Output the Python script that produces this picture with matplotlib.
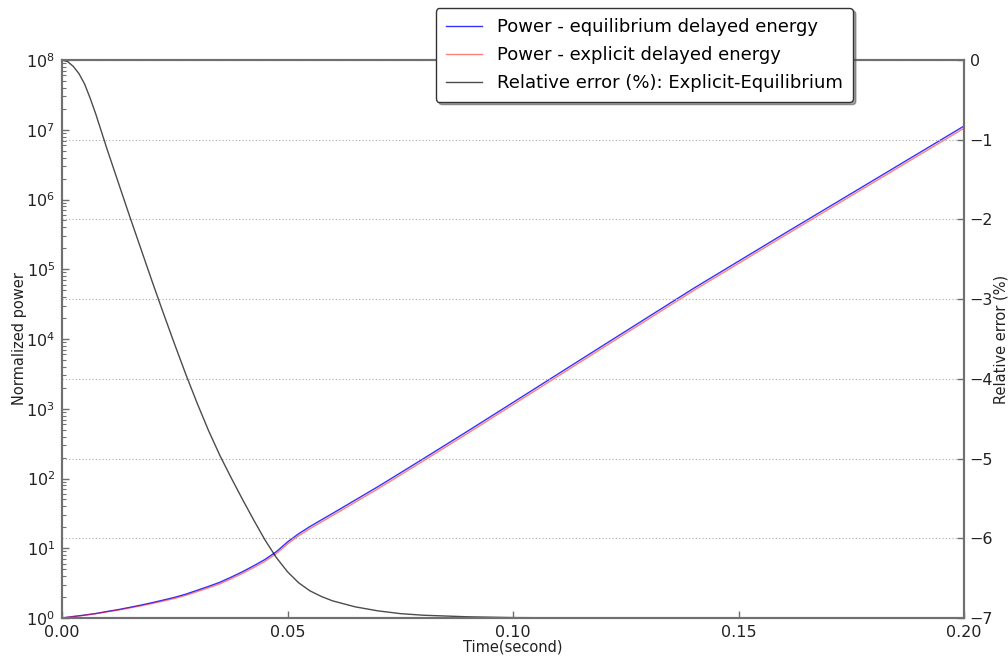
import matplotlib
matplotlib.use("Agg")
import matplotlib.pyplot as plt
from matplotlib.ticker import LogLocator, FixedLocator, NullFormatter

# Time grid (s) for the power curves
time_s = [0.0, 0.0025, 0.005, 0.0075, 0.01, 0.0125, 0.015, 0.0175, 0.02, 0.0225,
          0.025, 0.0275, 0.03, 0.0325, 0.035, 0.0375, 0.04, 0.0425, 0.045, 0.0475,
          0.05, 0.0525, 0.055, 0.0575, 0.06, 0.065, 0.07, 0.075, 0.08, 0.09,
          0.10, 0.12, 0.14, 0.16, 0.18, 0.20]

# Normalized power, equilibrium delayed energy
power_equilibrium = [1.00, 1.05, 1.10, 1.16, 1.24, 1.32, 1.42, 1.53, 1.66, 1.81,
                     1.98, 2.20, 2.50, 2.84, 3.25, 3.85, 4.60, 5.60, 6.90, 8.90,
                     12.3, 16.2, 20.5, 25.5, 31.6, 49.0, 76.0, 120.0, 190.0, 480.0,
                     1230.0, 8100.0, 5.3e4, 3.2e5, 1.9e6, 1.13e7]

# Normalized power, explicit delayed energy
power_explicit = [1.00, 1.049, 1.097, 1.152, 1.226, 1.300, 1.392, 1.494, 1.614, 1.752,
                  1.909, 2.113, 2.392, 2.708, 3.088, 3.647, 4.347, 5.277, 6.483, 8.344,
                  11.51, 15.14, 19.14, 23.78, 29.45, 45.64, 70.74, 111.7, 176.8, 446.4,
                  1144.0, 7533.0, 4.929e4, 2.976e5, 1.767e6, 1.051e7]

# Time grid (s) for the relative error curve
error_time_s = [0.0, 0.00125, 0.0025, 0.00375, 0.005, 0.00625, 0.0075, 0.00875, 0.01,
                0.0125, 0.015, 0.0175, 0.02, 0.0225, 0.025, 0.0275, 0.03, 0.0325,
                0.035, 0.0375, 0.04, 0.0425, 0.045, 0.0475, 0.05, 0.0525, 0.055,
                0.0575, 0.06, 0.065, 0.07, 0.075, 0.08, 0.09, 0.10, 0.12, 0.14,
                0.16, 0.18, 0.20]

# Relative error (%) explicit vs equilibrium
relative_error = [0.0, -0.02, -0.08, -0.17, -0.30, -0.48, -0.68, -0.90, -1.12,
                  -1.54, -1.96, -2.37, -2.78, -3.18, -3.57, -3.95, -4.31, -4.65,
                  -4.96, -5.24, -5.51, -5.77, -6.02, -6.24, -6.42, -6.56, -6.66,
                  -6.73, -6.785, -6.86, -6.91, -6.945, -6.965, -6.985, -6.995, -7.0,
                  -7.0, -7.0, -7.0, -7.0]

x_ticks = [0.00, 0.05, 0.10, 0.15, 0.20]
x_tick_labels = ["0.00", "0.05", "0.10", "0.15", "0.20"]
err_ticks = [0, -1, -2, -3, -4, -5, -6, -7]

spine_col = "#707070"
text_col = "#222222"

fig = plt.figure(figsize=(10.08, 6.58), dpi=100)
ax = fig.add_axes([62 / 1008, 1 - 618 / 658, 902 / 1008, 558 / 658])
ax2 = ax.twinx()

l1, = ax.plot(time_s, power_equilibrium, color="#0000ff", lw=1.0, alpha=0.8)
l2, = ax.plot(time_s, power_explicit, color="#ff0000", lw=1.0, alpha=0.5)
l3, = ax2.plot(error_time_s, relative_error, color="#000000", lw=1.0, alpha=0.7)

ax.set_yscale("log")
ax.set_ylim(1, 1e8)
ax.set_xlim(0, 0.2)
ax.yaxis.set_major_locator(LogLocator(base=10, numticks=20))
ax.yaxis.set_minor_locator(LogLocator(base=10, subs=range(2, 10), numticks=20))
ax.yaxis.set_minor_formatter(NullFormatter())
ax.set_xticks(x_ticks)
ax.set_xticklabels(x_tick_labels)

ax2.set_ylim(-7, 0)
ax2.yaxis.set_major_locator(FixedLocator(err_ticks))
ax2.grid(axis="y", linestyle=(0, (1, 2)), color="#aaaaaa", lw=0.8)

for a in (ax, ax2):
    for s in a.spines.values():
        s.set_color(spine_col)
        s.set_linewidth(1.5)
    a.tick_params(direction="in", colors=spine_col, labelcolor=text_col,
                  labelsize=11.5, length=5, width=1)
    a.tick_params(which="minor", direction="in", colors=spine_col, length=3, width=0.8)

ax.tick_params(axis="x", pad=5)
ax.tick_params(axis="y", right=False, pad=5)
ax2.tick_params(axis="y", left=False, pad=4)
ax.tick_params(axis="y", which="minor", right=False)

ax.set_xlabel("Time(second)", fontsize=10.5, color=text_col, labelpad=0)
ax.set_ylabel("Normalized power", fontsize=10.5, color=text_col, labelpad=-1)
ax2.set_ylabel("Relative error (%)", fontsize=10.5, color=text_col, labelpad=0)

leg = ax2.legend([l1, l2, l3],
                 ["Power - equilibrium delayed energy",
                  "Power - explicit delayed energy",
                  "Relative error (%): Explicit-Equilibrium"],
                 loc="upper right", bbox_to_anchor=(0.877, 1.093),
                 borderaxespad=0, fontsize=13, fancybox=True, shadow=True,
                 framealpha=1, handlelength=2.0,
                 borderpad=0.55, labelspacing=0.55, handletextpad=0.85)
leg.get_frame().set_edgecolor("#333333")
leg.set_zorder(10)

fig.savefig("out.png", dpi=100)
